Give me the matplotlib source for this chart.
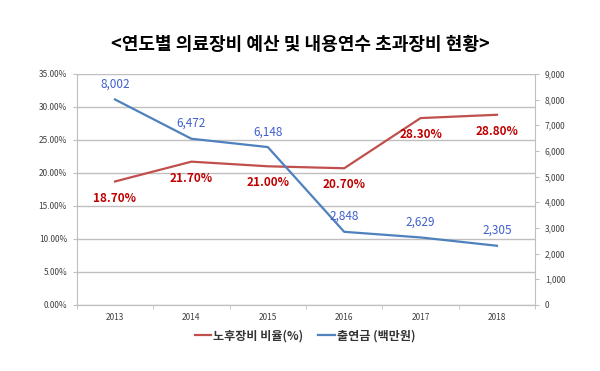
import matplotlib.pyplot as plt
from matplotlib.ticker import FuncFormatter

plt.rcParams['font.family'] = ['Noto Sans CJK KR', 'DejaVu Sans']

# data
years = ['2013', '2014', '2015', '2016', '2017', '2018']
old_ratio = [18.7, 21.7, 21.0, 20.7, 28.3, 28.8]       # 노후장비 비율(%)
funding = [8002, 6472, 6148, 2848, 2629, 2305]        # 출연금 (백만원)

red = '#C0504D'
blue = '#4F81BD'
x = range(len(years))

fig = plt.figure(figsize=(6, 3.71), dpi=100)
ax = fig.add_axes([0.128, 0.178, 0.764, 0.623])
ax2 = ax.twinx()

ax.plot(x, old_ratio, color=red, lw=1.6, label='노후장비 비율(%)')
ax2.plot(x, funding, color=blue, lw=1.6, label='출연금 (백만원)')

# data labels
for i, v in enumerate(old_ratio):
    ax.annotate(f'{v:.2f}%', (i, v), xytext=(0, -12), textcoords='offset points',
                ha='center', va='center', color='#C00000', fontsize=8.5, fontweight='bold')
for i, v in enumerate(funding):
    ax2.annotate(f'{v:,}', (i, v), xytext=(0, 11), textcoords='offset points',
                 ha='center', va='center', color='#3F5FCF', fontsize=8.5)

ax.set_xlim(-0.5, len(years) - 0.5)
ax.set_ylim(0, 35)
ax2.set_ylim(0, 9000)
ax.set_yticks(range(0, 36, 5))
ax2.set_yticks(range(0, 9001, 1000))
ax.yaxis.set_major_formatter(FuncFormatter(lambda v, p: f'{v:.2f}%'))
ax2.yaxis.set_major_formatter(FuncFormatter(lambda v, p: f'{int(v):,}'))

ax.set_xticks(list(x))
ax.set_xticklabels(years)
ax.set_xticks([i - 0.5 for i in range(len(years) + 1)], minor=True)
ax.tick_params(axis='x', which='major', length=0, labelsize=6, labelcolor='#404040', pad=6)
ax.tick_params(axis='x', which='minor', length=3, color='#BFBFBF')
ax.tick_params(axis='y', length=3, color='#BFBFBF', labelsize=6, labelcolor='#404040', pad=4)
ax2.tick_params(axis='y', length=3, color='#BFBFBF', labelsize=6, labelcolor='#404040', pad=4)

ax.grid(axis='y', color='#BFBFBF', lw=1)
ax.set_axisbelow(True)
for a in (ax, ax2):
    a.spines['top'].set_visible(False)
    for s in ('left', 'right', 'bottom'):
        a.spines[s].set_color('#BFBFBF')
ax.spines['right'].set_visible(False)
ax2.spines['left'].set_visible(False)

fig.text(0.5, 0.88, '<연도별 의료장비 예산 및 내용연수 초과장비 현황>', ha='center', va='center',
         fontsize=13, fontweight='bold', color='#000000')

h1, l1 = ax.get_legend_handles_labels()
h2, l2 = ax2.get_legend_handles_labels()
fig.legend(h1 + h2, l1 + l2, loc='center', bbox_to_anchor=(0.508, 0.095), ncol=2,
           frameon=False, handlelength=1.4, handletextpad=0.15, columnspacing=1.2,
           prop={'size': 8.7, 'weight': 'bold'}, labelcolor='#333333')

fig.savefig('out.png', dpi=100)
